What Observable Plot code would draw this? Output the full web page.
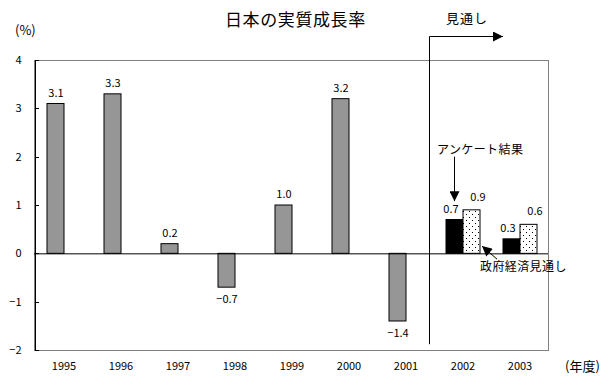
<!DOCTYPE html>
<html>
<head>
<meta charset="utf-8">
<script src="https://cdn.jsdelivr.net/npm/d3@7"></script>
<script src="https://cdn.jsdelivr.net/npm/@observablehq/plot@0.6"></script>
<style>
  body { margin: 0; background: #fff; }
  #wrap { position: relative; width: 610px; height: 385px; font-family: "Noto Sans CJK JP", "Noto Sans", sans-serif; color: #000; }
  #wrap svg { position: absolute; left: 0; top: 0; }
  .t { position: absolute; white-space: nowrap; line-height: 1; }
</style>
</head>
<body>
<div id="wrap">
  <div class="t" style="left:225px;top:10px;font-size:17px;letter-spacing:0.6px;">日本の実質成長率</div>
  <div class="t" style="left:15px;top:23px;font-size:13px;">(%)</div>
  <div class="t" style="left:446px;top:11px;font-size:13px;letter-spacing:1px;">見通し</div>
  <div class="t" style="left:565px;top:359px;font-size:13px;">(年度)</div>
  <div class="t" style="left:437px;top:143px;font-size:12px;letter-spacing:0.4px;">アンケート結果</div>
  <div class="t" style="left:480px;top:260px;font-size:12px;letter-spacing:0.4px;">政府経済見通し</div>
</div>
<script>
// ---- data ----
const years = ["1995", "1996", "1997", "1998", "1999", "2000", "2001", "2002", "2003"];
const actual = [3.1, 3.3, 0.2, -0.7, 1.0, 3.2, -1.4, null, null];      // 実績
const survey = [null, null, null, null, null, null, null, 0.7, 0.3];     // アンケート結果
const government = [null, null, null, null, null, null, null, 0.9, 0.6]; // 政府経済見通し
const yTicks = [-2, -1, 0, 1, 2, 3, 4];

const FONT = '"Noto Sans CJK JP", "Noto Sans", sans-serif';
const fmt = d3.format(".1f");

const rows = years.map((year, i) => ({year, actual: actual[i], survey: survey[i], government: government[i]}));
const A = rows.filter(d => d.actual != null);
const S = rows.filter(d => d.survey != null);
const G = rows.filter(d => d.government != null);

const chart = Plot.plot({
  width: 610,
  height: 385,
  marginLeft: 34,
  marginRight: 62,
  marginTop: 60,
  marginBottom: 35,
  style: {fontFamily: FONT, fontSize: "11px", color: "#000", background: "transparent", overflow: "visible"},
  x: {type: "band", domain: years, padding: 0},
  y: {domain: [-2, 4]},
  marks: [
    Plot.frame({stroke: "#808080"}),
    Plot.axisX({tickSize: 0, tickPadding: 12, label: null, fontSize: 11}),
    Plot.axisY({ticks: yTicks, tickSize: 0, tickPadding: 13, label: null, fontSize: 11, tickFormat: d3.format("d")}),
    Plot.barY(A, {x: "year", y: "actual", fill: "#969696", stroke: "#000", insetLeft: 12, insetRight: 28}),
    Plot.barY(S, {x: "year", y: "survey", fill: "#000", stroke: "#000", insetLeft: 12, insetRight: 28}),
    Plot.barY(G, {x: "year", y: "government", fill: "url(#dots)", stroke: "#000", insetLeft: 29, insetRight: 11}),
    Plot.ruleY([0], {stroke: "#000"}),
    Plot.text(A.filter(d => d.actual >= 0), {x: "year", y: "actual", text: d => fmt(d.actual), dx: -8, dy: -11}),
    Plot.text(A.filter(d => d.actual < 0), {x: "year", y: "actual", text: d => fmt(d.actual), dx: -8, dy: 12}),
    Plot.text(S, {x: "year", y: "survey", text: d => fmt(d.survey), dx: -12, dy: -11}),
    Plot.text(G, {x: "year", y: "government", text: d => fmt(d.government), dx: 15, dy: -13})
  ]
});

const wrap = document.getElementById("wrap");
wrap.insertBefore(chart, wrap.firstChild);

// scales from the plot
const X = Plot.scale({x: chart.scale("x")});
const Y = Plot.scale({y: chart.scale("y")});
const x = v => X.apply(v);
const y = v => Y.apply(v);

const svg = d3.select(chart);
svg.insert("defs", ":first-child").html(
  '<pattern id="dots" width="6" height="6" patternUnits="userSpaceOnUse">' +
  '<rect width="6" height="6" fill="#fff"/>' +
  '<rect x="1" y="1" width="1" height="1" fill="#000"/>' +
  '<rect x="4" y="4" width="1" height="1" fill="#000"/></pattern>' +
  '<marker id="tri" viewBox="0 0 10 10" refX="10" refY="5" markerWidth="11" markerHeight="10" markerUnits="userSpaceOnUse" orient="auto">' +
  '<path d="M0,0L10,5L0,10z" fill="#000"/></marker>'
);

const g = svg.append("g").attr("stroke", "#000").attr("fill", "none").attr("stroke-width", 1);
const x0 = x(years[0]);
// left axis line and inward ticks
g.append("line").attr("x1", x0 + 0.5).attr("x2", x0 + 0.5).attr("y1", y(4)).attr("y2", y(-2));
for (const t of yTicks) {
  g.append("line").attr("x1", x0).attr("x2", x0 + 4).attr("y1", Math.round(y(t)) + 0.5).attr("y2", Math.round(y(t)) + 0.5);
}
// forecast divider and arrow (見通し)
const xf = Math.round(x("2002") - 5) + 0.5;
g.append("line").attr("x1", xf).attr("x2", xf).attr("y1", Math.round(y(4.5)) + 0.5).attr("y2", y(-1.88));
g.append("line").attr("x1", xf).attr("x2", x("2003") + 12).attr("y1", Math.round(y(4.5)) + 0.5).attr("y2", Math.round(y(4.5)) + 0.5)
  .attr("marker-end", "url(#tri)");
// アンケート結果 arrow
const xs = Math.round(x("2002") + 20) + 0.5;
g.append("line").attr("x1", xs).attr("x2", xs).attr("y1", y(2)).attr("y2", y(1.08)).attr("marker-end", "url(#tri)");
// 政府経済見通し arrow
g.append("line").attr("x1", x("2002") + 63).attr("y1", y(-0.12)).attr("x2", x("2002") + 48).attr("y2", y(0.15))
  .attr("marker-end", "url(#tri)");
</script>
</body>
</html>
